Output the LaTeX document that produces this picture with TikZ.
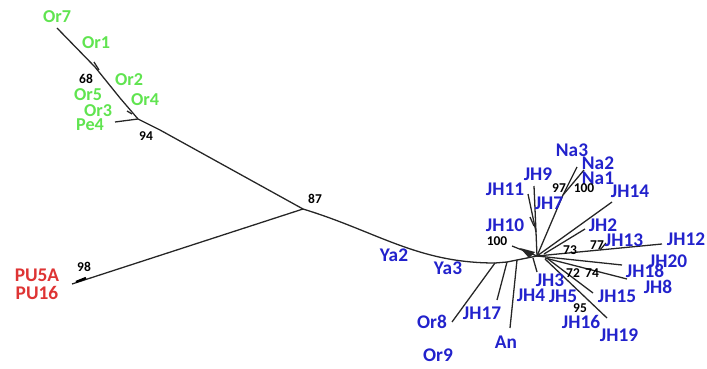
\documentclass[tikz,border=0pt]{standalone}
\usepackage{fontspec}
\setmainfont{Carlito}
\definecolor{orgreen}{RGB}{96,228,80}
\definecolor{jhblue}{RGB}{34,34,204}
\definecolor{pured}{RGB}{222,52,52}

\begin{document}
\begin{tikzpicture}[x=0.03cm, y=-0.03cm,
    branch/.style={line width=1.1pt, black!85},
    leafg/.style={text=orgreen, font=\fontsize{15.5}{15.5}\selectfont\bfseries, inner sep=0pt},
    leafb/.style={text=jhblue, font=\fontsize{16.5}{16.5}\selectfont\bfseries, inner sep=0pt},
    leafr/.style={text=pured, font=\fontsize{16.5}{16.5}\selectfont\bfseries, inner sep=0pt},
    boot/.style={font=\fontsize{11.5}{11.5}\selectfont\bfseries, inner sep=0pt}]
  \useasboundingbox (0,0) rectangle (707,369);

  % internal nodes
  \coordinate (r87) at (303,209);
  \coordinate (n94) at (138,119);
  \coordinate (n68) at (120,98);
  \coordinate (nA)  at (495,263);
  \coordinate (nB)  at (507,262);
  \coordinate (nC)  at (517,260);
  \coordinate (hub) at (537,256);
  \coordinate (n11) at (536,232);
  \coordinate (nNa) at (563,195);

  % leaf tips
  \coordinate (tOr7) at (57,28);
  \coordinate (tPe4) at (115,122);
  \coordinate (tPU)  at (72,284);
  \coordinate (tOr9) at (452,322);
  \coordinate (tJH17) at (497,300);
  \coordinate (tAn)  at (510,328);
  \coordinate (tJH3) at (537,272);
  \coordinate (tJH9) at (534,186);
  \coordinate (tJH11) at (528,194);
  \coordinate (tJH10) at (512,246);
  \coordinate (tNa3) at (577,167);
  \coordinate (tNa2) at (584,170);
  \coordinate (tJH14) at (612,202);
  \coordinate (tJH2) at (585,229);
  \coordinate (tJH12) at (662,244);
  \coordinate (tJH20) at (622,265);
  \coordinate (tJH18) at (627,279);
  \coordinate (tJH15) at (593,293);
  \coordinate (tJH19) at (607,318);

  % branches
  \draw[branch] (tOr7) -- (95,67) -- (n68) -- (n94) -- (160,130) -- (r87);
  \draw[branch] (tPe4) -- (n94);
  \draw[branch] (94,62) -- (99,70);
  \draw[branch] (127,111) -- (132,114);
  \draw[branch] (r87) -- (tPU);
  \draw[line width=2pt] (76,282) -- (86,278);
  \draw[branch] (r87) to[out=-17, in=180] (nA);
  \draw[branch] (nA) -- (nB) -- (nC) -- (hub);
  \draw[branch] (nA) -- (tOr9);
  \draw[branch] (nB) -- (tJH17);
  \draw[branch] (nC) -- (tAn);
  \draw[branch] (533,258) -- (tJH3);
  \draw[branch] (hub) -- (n11) -- (tJH9);
  \draw[branch] (n11) -- (tJH11);
  \draw[branch] (530,217) -- (534,226);
  \draw[branch] (hub) -- (tJH10);
  \fill[black!85] (520,248) -- (535,252) -- (529,258) -- cycle;
  \draw[branch] (hub) -- (nNa) -- (tNa3);
  \draw[branch] (nNa) -- (tNa2);
  \draw[branch] (hub) -- (tJH14);
  \draw[branch] (544,254) -- (tJH2);
  \draw[branch] (hub) -- (tJH12);
  \draw[branch] (600,250) -- (606,243);
  \draw[branch] (hub) -- (tJH20);
  \draw[branch] (545,258) -- (tJH18);
  \draw[branch] (548,259) -- (tJH15);
  \draw[branch] (545,259) -- (tJH19);

  % labels
  \node[leafg] (Or7) at (57,17) {Or7};
  \node[leafg] (Or1) at (96,43) {Or1};
  \node[leafg] (Or2) at (129,80) {Or2};
  \node[leafg] (Or5) at (88,95) {Or5};
  \node[leafg] (Or4) at (145,100) {Or4};
  \node[leafg] (Or3) at (98,111) {Or3};
  \node[leafg] (Pe4) at (90,125) {Pe4};

  \node[leafr] (PU5A) at (37,275) {PU5A};
  \node[leafr] (PU16) at (37,293) {PU16};

  \node[leafb] (Ya2) at (394,255) {Ya2};
  \node[leafb] (Ya3) at (448,268) {Ya3};
  \node[leafb] (Or8) at (432,322) {Or8};
  \node[leafb] (Or9) at (438,355) {Or9};
  \node[leafb] (JH17) at (482,313) {JH17};
  \node[leafb] (An) at (506,342) {An};
  \node[leafb] (JH4) at (531,295) {JH4};
  \node[leafb] (JH3) at (550,280) {JH3};
  \node[leafb] (JH5) at (563,296) {JH5};
  \node[leafb] (JH16) at (581,322) {JH16};
  \node[leafb] (JH19) at (619,335) {JH19};
  \node[leafb] (JH15) at (617,296) {JH15};
  \node[leafb] (JH8) at (658,287) {JH8};
  \node[leafb] (JH18) at (645,271) {JH18};
  \node[leafb] (JH20) at (668,261) {JH20};
  \node[leafb] (JH12) at (686,239) {JH12};
  \node[leafb] (JH13) at (624,240) {JH13};
  \node[leafb] (JH2) at (603,225) {JH2};
  \node[leafb] (JH14) at (630,191) {JH14};
  \node[leafb] (JH10) at (505,225) {JH10};
  \node[leafb] (JH7) at (549,203) {JH7};
  \node[leafb] (JH11) at (505,189) {JH11};
  \node[leafb] (JH9) at (538,174) {JH9};
  \node[leafb] (Na3) at (572,150) {Na3};
  \node[leafb] (Na2) at (598,163) {Na2};
  \node[leafb] (Na1) at (598,178) {Na1};

  \node[boot] (b68) at (86,79) {68};
  \node[boot] (b94) at (146,136) {94};
  \node[boot] (b98) at (84,267) {98};
  \node[boot] (b87) at (315,199) {87};
  \node[boot] (b100a) at (497,241) {100};
  \node[boot] (b97) at (559,188) {97};
  \node[boot] (b100b) at (584,188) {100};
  \node[boot] (b73) at (570,250) {73};
  \node[boot] (b77) at (597,245) {77};
  \node[boot] (b72) at (573,273) {72};
  \node[boot] (b74) at (592,273) {74};
  \node[boot] (b95) at (580,308) {95};
\end{tikzpicture}
\end{document}
